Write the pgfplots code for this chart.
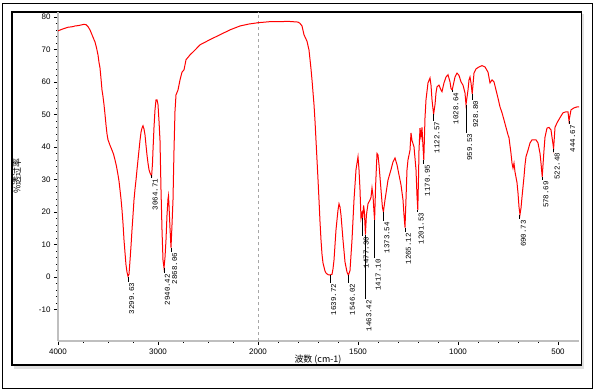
\documentclass[border=0pt]{standalone}
\usepackage{pgfplots}
\usepackage{pgfplotstable}
\pgfplotsset{compat=1.18}
\usepackage{fontspec}
\setmainfont{Liberation Sans}
\newfontfamily\cjk{Noto Sans CJK SC}
\newfontfamily\monofont{Liberation Mono}

\pgfplotstableread{
w t
4000 75.7
3950 76.3
3900 76.8
3850 77.0
3830 77.2
3800 77.3
3770 77.5
3740 77.7
3720 77.6
3700 77.0
3680 76.0
3660 74.5
3640 73.0
3630 72.3
3615 70.5
3600 68.3
3590 66.0
3580 64.3
3570 61.0
3560 57.5
3550 55.5
3540 53.0
3530 50.0
3520 46.8
3510 44.0
3500 42.2
3480 40.5
3460 39.0
3445 37.8
3430 36.0
3415 34.0
3400 31.4
3390 29.5
3380 26.8
3370 24.0
3360 20.6
3350 16.5
3340 11.4
3330 7.5
3320 3.7
3310 1.5
3300 0.2
3290 0.8
3280 5.0
3270 9.5
3260 14.5
3250 19.0
3240 23.7
3230 27.0
3220 29.8
3210 33.0
3200 36.0
3190 39.0
3180 42.0
3170 44.5
3160 45.8
3150 46.5
3140 45.5
3130 43.7
3120 40.5
3110 37.5
3100 35.0
3090 33.0
3080 32.0
3070 31.4
3064 31.0
3055 35.0
3050 39.0
3040 46.0
3030 51.4
3020 54.5
3010 54.5
3000 53.0
2990 48.0
2980 42.0
2970 26.8
2960 14.5
2950 5.2
2940 2.8
2930 6.0
2920 11.4
2910 19.0
2900 24.0
2895 25.0
2890 22.0
2880 15.0
2870 9.0
2860 16.0
2850 23.7
2840 39.0
2830 51.0
2820 56.0
2800 57.5
2780 60.6
2760 63.0
2740 63.7
2720 66.8
2680 68.3
2630 69.8
2580 71.4
2480 73.0
2380 74.5
2280 76.0
2180 77.2
2090 77.8
2000 78.2
1945 78.5
1845 78.6
1800 78.4
1790 78.0
1780 77.2
1770 74.5
1755 72.5
1745 69.8
1735 64.0
1730 60.6
1720 53.0
1715 48.0
1710 42.0
1705 36.0
1700 30.0
1695 23.7
1690 17.0
1685 11.4
1680 7.0
1675 4.3
1665 1.8
1660 1.2
1650 0.7
1640 0.6
1630 0.8
1625 2.5
1620 5.2
1610 14.5
1600 20.6
1595 22.5
1590 21.5
1585 19.0
1575 11.4
1565 4.6
1555 1.5
1548 0.5
1540 2.0
1530 11.4
1520 23.7
1510 33.0
1500 37.0
1495 33.0
1490 26.8
1485 18.0
1480 19.5
1477 18.0
1472 22.0
1468 20.0
1463 13.0
1458 19.0
1450 22.5
1440 23.7
1435 24.5
1430 27.4
1425 25.0
1420 20.0
1417 17.5
1412 28.0
1405 38.0
1400 37.5
1395 34.5
1385 26.8
1378 21.5
1373 20.0
1365 23.7
1350 29.8
1335 33.0
1325 35.4
1315 36.6
1305 34.5
1295 31.4
1285 28.3
1275 23.7
1270 19.0
1265 15.2
1260 24.0
1255 33.0
1250 36.0
1240 39.0
1235 44.3
1230 42.0
1220 40.0
1210 33.0
1205 25.0
1201 20.6
1197 32.0
1195 39.0
1190 45.8
1185 43.0
1180 46.0
1175 40.0
1171 36.0
1165 49.0
1160 54.5
1150 59.7
1140 61.2
1135 59.0
1130 54.5
1122 50.0
1115 53.0
1110 56.6
1105 58.5
1095 59.0
1085 57.5
1080 57.0
1070 59.7
1060 61.5
1050 62.2
1040 60.0
1035 58.0
1029 57.5
1015 61.5
1005 62.7
995 62.0
985 60.0
975 59.0
965 56.6
960 53.0
950 57.5
945 60.6
940 61.5
935 59.7
929 56.3
920 62.7
910 64.0
895 64.6
880 65.0
865 64.6
850 63.0
840 59.7
830 60.6
820 60.0
810 57.5
800 55.0
790 52.3
780 50.5
770 48.3
760 46.0
750 43.7
745 42.8
735 38.0
730 35.0
725 33.5
720 35.0
715 32.3
705 29.0
700 25.8
695 21.5
690 19.2
685 21.2
680 24.6
670 30.8
665 34.5
660 37.0
650 39.0
640 41.2
630 42.2
610 42.2
600 41.2
590 38.0
585 35.0
579 30.8
570 39.0
565 43.0
555 45.8
545 46.0
535 45.2
522 39.5
515 46.0
505 47.4
490 49.0
475 50.5
460 50.8
450 50.8
445 48.0
435 51.4
420 52.0
405 52.3
395 52.3
}\spec

\newcommand{\pk}[4]{\draw[black, line width=0.8bp] (axis cs:#1,#2) -- (axis cs:#1,#3) node[anchor=north east, rotate=90, inner sep=0.6bp, font=\monofont\fontsize{7.5}{8}\selectfont] {#4};}

\begin{document}
\begin{tikzpicture}
\path[use as bounding box] (0bp,0bp) rectangle (595bp,392bp);
\fill[white] (0bp,0bp) rectangle (595bp,392bp);
\draw[black, line width=0.8bp] (2.5bp,3.5bp) rectangle (592.5bp,389bp);
\fill[black!12] (14bp,23bp) rectangle (584bp,27bp);
\fill[black!12] (581.5bp,23bp) rectangle (584bp,378bp);
\draw[black, line width=1.2bp] (12bp,27bp) rectangle (581.5bp,380bp);
\begin{axis}[
  at={(58bp,51bp)}, anchor=south west,
  width=521bp, height=329bp, scale only axis,
  x coord trafo/.code={\pgfmathparse{#1>=2000 ? (4000-#1)*0.1 : 200+(2000-#1)*0.2}},
  xmin=4000, xmax=395,
  ymin=-19.7, ymax=81.5,
  axis x line*=bottom, axis y line*=left,
  axis line style={-, draw=black!25, line width=2.2bp},
  every outer x axis line/.append style={-},
  every outer y axis line/.append style={-},
  every inner x axis line/.append style={-},
  every inner y axis line/.append style={-},
  xtick={4000,3000,2000,1500,1000,500},
  xticklabels={4000,3000,2000,1500,1000,500},
  minor xtick={3750,3500,3250,2750,2500,2250,1900,1800,1700,1600,1400,1300,1200,1100,900,800,700,600},
  ytick={-10,0,10,20,30,40,50,60,70,80},
  minor y tick num=4,
  tick align=outside,
  major tick length=4bp, minor tick length=2bp,
  tick style={black, line width=0.6bp},
  extra x ticks={2000}, extra x tick labels={},
  extra x tick style={grid=major, major grid style={dashed, black!35, line width=0.6bp}, major tick length=0bp},
  /pgf/number format/assume math mode=true,
  tick label style={font=\fontsize{8}{9}\selectfont},
  clip=false,
]
\addplot[red, line width=1bp] table[x=w, y=t] {\spec};
\pk{3299.63}{0}{-1.5}{3299.63}
\pk{3064.71}{31.4}{30.5}{3064.71}
\pk{2940.42}{2.8}{1.2}{2940.42}
\pk{2868.06}{9}{7.7}{2868.06}
\pk{1639.72}{0.6}{-1.8}{1639.72}
\pk{1546.02}{0.5}{-1.8}{1546.02}
\pk{1477.30}{18}{12.6}{1477.30}
\pk{1463.42}{13}{-6.8}{1463.42}
\pk{1417.10}{17.5}{5.8}{1417.10}
\pk{1373.54}{20}{17.2}{1373.54}
\pk{1265.12}{15.2}{13.8}{1265.12}
\pk{1201.53}{20.6}{20}{1201.53}
\pk{1170.95}{36}{34.8}{1170.95}
\pk{1122.57}{50}{48}{1122.57}
\pk{1028.64}{57.5}{57}{1028.64}
\pk{959.53}{53}{44.3}{959.53}
\pk{928.80}{56.3}{54.5}{928.80}
\pk{690.73}{19.2}{17.8}{690.73}
\pk{578.69}{30.8}{29.8}{578.69}
\pk{522.48}{39.5}{38.5}{522.48}
\pk{444.67}{48}{47}{444.67}
\end{axis}
\node[rotate=90, font=\cjk\fontsize{9}{10}\selectfont] at (17bp,216bp) {\%透过率};
\node[font=\cjk\fontsize{9}{10}\selectfont] at (318bp,32bp) {波数 (cm-1)};
\end{tikzpicture}
\end{document}
